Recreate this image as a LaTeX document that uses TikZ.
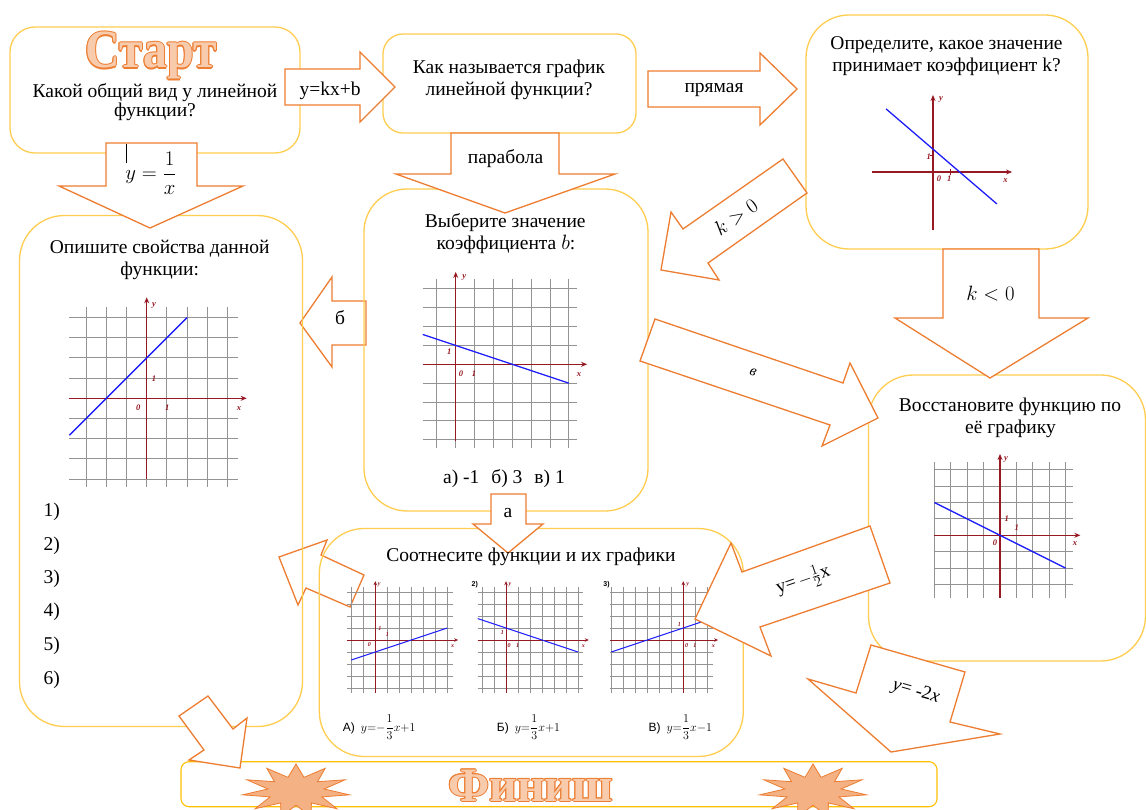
\documentclass[tikz,border=0pt]{standalone}
\usepackage{amsmath}
\usepackage{fontspec}
\usepackage{graphicx}
\setmainfont{Liberation Serif}
\newfontfamily\sansf{Liberation Sans}
\usetikzlibrary{shapes.geometric,arrows.meta}
\definecolor{boxc}{RGB}{255,205,80}
\definecolor{finc}{RGB}{255,192,0}
\definecolor{arrc}{RGB}{237,125,49}
\definecolor{starf}{RGB}{244,177,131}
\definecolor{titlef}{RGB}{248,203,173}
\definecolor{axred}{RGB}{150,25,35}
\definecolor{fblue}{RGB}{30,30,250}
\newcommand\mainsz{\rmfamily\fontsize{19.5}{22.4}\selectfont}
\newcommand\titlesz{\fontsize{48}{50}\selectfont\bfseries}
\newcommand\glf{\fontsize{8.5}{9}\selectfont\bfseries\itshape}
\newcommand\glfs{\fontsize{6}{6}\selectfont\bfseries\itshape}
\newcommand\outlineword[1]{%
 {\color{arrc}%
 \rlap{\hspace*{1pt}#1}\rlap{\hspace*{-1pt}#1}\rlap{\raisebox{1pt}{#1}}\rlap{\raisebox{-1pt}{#1}}%
 \rlap{\hspace*{.7pt}\raisebox{.7pt}{#1}}\rlap{\hspace*{-.7pt}\raisebox{.7pt}{#1}}%
 \rlap{\hspace*{.7pt}\raisebox{-.7pt}{#1}}\rlap{\hspace*{-.7pt}\raisebox{-.7pt}{#1}}}%
 {\color{titlef}#1}}
\newcommand\gridg[8]{%
  \foreach \gx in {#1,...,#2} {\draw[gridl] (\gx,#5) -- (\gx,#6);}%
  \foreach \gy in {#3,...,#4} {\draw[gridl] (#7,\gy) -- (#8,\gy);}}
\tikzset{
  qbox/.style={draw=boxc, line width=1.3pt, inner sep=0pt},
  blockarr/.style={draw=arrc, line width=1.3pt, fill=white, line join=miter},
  txt/.style={anchor=base, inner sep=0pt, font=\mainsz},
  gridl/.style={draw=gray!85, line width=0.9pt},
  axisl/.style={draw=axred, line width=1.1pt},
  bigarr/.style={axisl, -{Stealth[length=6pt,width=5pt]}},
  smallarr/.style={axisl, line width=0.8pt, -{Stealth[length=4pt,width=3.5pt]}},
  fline/.style={draw=fblue, line width=1.3pt},
  glab/.style={font=\glf, text=axred, inner sep=0pt},
  glabs/.style={font=\glfs, text=axred, inner sep=0pt},
  starsh/.style={star, star points=11, star point ratio=1.9, fill=starf, draw=arrc,
    line width=0.8pt, minimum size=54pt, inner sep=0pt, transform shape, xscale=2},
}
\begin{document}
\begin{tikzpicture}[x=1pt,y=-1pt]
\useasboundingbox (0,0) rectangle (1146,810);
\fill[white] (0,0) rectangle (1146,810);

% arrows lying behind the boxes
\draw[blockarr] (366,301) -- (332,301) -- (332,277) -- (300,323) -- (332,367) -- (332,345) -- (366,345) -- cycle;
\draw[blockarr] (279,557) -- (327,540) -- (321,555) -- (364,575) -- (350,607) -- (306,588) -- (298,605) -- cycle;

% boxes
\node[qbox, minimum width=290pt, minimum height=126pt, rounded corners=25pt] (start) at (155,90) {};
\node[qbox, minimum width=253pt, minimum height=99pt, rounded corners=20pt] (q2) at (509.5,83.5) {};
\node[qbox, minimum width=282pt, minimum height=234pt, rounded corners=43pt] (q3) at (947,132) {};
\node[qbox, minimum width=284pt, minimum height=322pt, rounded corners=43pt] (mid) at (506,350) {};
\node[qbox, minimum width=283pt, minimum height=511pt, rounded corners=45pt] (left) at (161,471) {};
\node[qbox, minimum width=277pt, minimum height=286pt, rounded corners=45pt] (right) at (1007,518) {};
\node[qbox, minimum width=424pt, minimum height=228pt, rounded corners=45pt] (bot) at (531.3,642.5) {};
\node[qbox, draw=finc, line width=1.1pt, minimum width=756pt, minimum height=45pt, rounded corners=8pt] (finish) at (559,784.2) {};

% stars
\node[starsh] (lstar) at (296,791) {};
\node[starsh] (rstar) at (813,791) {};

% graph 1 (q3)
\begin{scope}[shift={(933,172)},x=17pt,y=17pt]
 \draw[bigarr] (-3.59,0) -- (4.65,0);
 \draw[bigarr] (0,-3.41) -- (0,4.53);
 \draw[axisl,line width=0.7pt] (1,-0.15) -- (1,0.15);
 \draw[axisl,line width=0.7pt] (-0.15,1) -- (0,1);
 \draw[fline] (-2.76,3.71) -- (3.76,-1.88);
 \node[glab] (g1y) at (0.47,4.27) {y};
 \node[glab] (g1a) at (-0.25,0.9) {1};
 \node[glab] (g1o) at (0.35,-0.41) {0};
 \node[glab] (g1b) at (0.96,-0.41) {1};
 \node[glab] (g1x) at (4.27,-0.51) {x};
\end{scope}

% graph 2 (mid)
\begin{scope}[shift={(455.7,364.3)},x=18.85pt,y=18.85pt]
 \gridg{-1}{6}{-4}{4}{-4.45}{4.5}{-1.75}{6.43}
 \draw[bigarr] (-1.75,0) -- (6.97,0);
 \draw[bigarr] (0,-4.07) -- (0,4.9);
 \draw[fline] (-1.75,1.583) -- (6,-1);
 \node[glab] (g2y) at (0.45,4.6) {y};
 \node[glab] (g2a) at (-0.34,0.67) {1};
 \node[glab] (g2o) at (0.28,-0.48) {0};
 \node[glab] (g2b) at (0.97,-0.48) {1};
 \node[glab] (g2x) at (6.54,-0.57) {x};
\end{scope}

% graph 3 (left)
\begin{scope}[shift={(146.7,398.3)},x=20.2pt,y=20.2pt]
 \gridg{-3}{4}{-4}{4}{-4.37}{4.53}{-3.83}{4.5}
 \draw[bigarr] (-3.83,0) -- (4.95,0);
 \draw[bigarr] (0,-4) -- (0,5);
 \draw[fline] (-3.83,-1.83) -- (2,4);
 \node[glab] (g3y) at (0.36,4.6) {y};
 \node[glab] (g3a) at (0.36,0.99) {1};
 \node[glab] (g3o) at (-0.42,-0.46) {0};
 \node[glab] (g3b) at (1.02,-0.46) {1};
 \node[glab] (g3x) at (4.57,-0.5) {x};
\end{scope}

% graph 4 (right)
\begin{scope}[shift={(1000,535.3)},x=16.4pt,y=16.4pt]
 \gridg{-4}{4}{-3}{4}{-3.8}{4.49}{-4}{4.47}
 \draw[bigarr] (-4,0) -- (4.9,0);
 \draw[bigarr] (0,-3.8) -- (0,4.96);
 \draw[fline] (-4,2) -- (4,-2);
 \node[glab] (g4y) at (0.37,4.63) {y};
 \node[glab] (g4a) at (0.41,0.99) {1};
 \node[glab] (g4b) at (1.02,0.46) {1};
 \node[glab] (g4o) at (-0.3,-0.43) {0};
 \node[glab] (g4x) at (4.57,-0.49) {x};
\end{scope}

% small graphs
\begin{scope}[shift={(375.3,640)},x=12pt,y=12pt,gridl/.style={draw=gray!85, line width=0.65pt}]
 \gridg{-2}{6}{-4}{4}{-4.4}{4.4}{-2.33}{6.44}
 \draw[smallarr] (-2.33,0) -- (6.9,0);
 \draw[smallarr] (0,-4.4) -- (0,4.9);
 \draw[fline,line width=1pt] (-2,-1.667) -- (6,1);
 \node[glabs] (gay) at (0.33,4.58) {y};
 \node[glabs] (gaa) at (0.39,0.97) {1};
 \node[glabs] (gab) at (1.0,0.42) {1};
 \node[glabs] (gao) at (-0.5,-0.36) {0};
 \node[glabs] (gax) at (6.45,-0.47) {x};
\end{scope}
\begin{scope}[shift={(506,640)},x=12pt,y=12pt,gridl/.style={draw=gray!85, line width=0.65pt}]
 \gridg{-2}{6}{-4}{4}{-4.4}{4.4}{-2.36}{6.44}
 \draw[smallarr] (-2.36,0) -- (6.9,0);
 \draw[smallarr] (0,-4.4) -- (0,4.9);
 \draw[fline,line width=1pt] (-2.36,1.787) -- (6,-1);
 \node[glabs] (gby) at (0.33,4.58) {y};
 \node[glabs] (gba) at (-0.3,0.64) {1};
 \node[glabs] (gbo) at (0.25,-0.42) {0};
 \node[glabs] (gbb) at (0.97,-0.42) {1};
 \node[glabs] (gbx) at (6.44,-0.47) {x};
 \node[inner sep=0pt, font=\sansf\bfseries\fontsize{7}{8}\selectfont] (gbn) at (-2.6,4.6) {2)};
\end{scope}
\begin{scope}[shift={(683.3,640)},x=12pt,y=12pt,gridl/.style={draw=gray!85, line width=0.65pt}]
 \gridg{-6}{2}{-4}{4}{-4.4}{4.4}{-6.1}{2.5}
 \draw[smallarr] (-6.1,0) -- (2.9,0);
 \draw[smallarr] (0,-4.4) -- (0,4.9);
 \draw[fline,line width=1pt] (-6,-1) -- (2,1.667);
 \node[glabs] (gcy) at (0.36,4.58) {y};
 \node[glabs] (gca) at (-0.33,1.25) {1};
 \node[glabs] (gco) at (0.28,-0.42) {0};
 \node[glabs] (gcb) at (0.97,-0.42) {1};
 \node[glabs] (gcx) at (2.5,-0.47) {x};
 \node[inner sep=0pt, font=\sansf\bfseries\fontsize{7}{8}\selectfont] (gcn) at (-6.4,4.6) {3)};
\end{scope}

% block arrows on top
\draw[blockarr] (285,69) -- (360,69) -- (360,52) -- (395,87) -- (360,122) -- (360,105) -- (285,105) -- cycle;
\draw[blockarr] (648,71) -- (760,71) -- (760,53) -- (797,89) -- (760,125) -- (760,107) -- (648,107) -- cycle;
\draw[blockarr] (451,133) -- (559,133) -- (559,174) -- (615,174) -- (505,213) -- (396,174) -- (451,174) -- cycle;
\draw[blockarr] (106,143) -- (197,143) -- (197,186) -- (243,186) -- (150,228) -- (59,186) -- (106,186) -- cycle;
\draw[blockarr] (783,159) -- (807,193) -- (708,263) -- (719,280) -- (661,270) -- (671,212) -- (683,229) -- cycle;
\draw[blockarr] (943,249) -- (1039,249) -- (1039,318) -- (1088,318) -- (990,378) -- (895,318) -- (943,318) -- cycle;
\draw[blockarr] (655,319) -- (843,383) -- (850,363) -- (878,418) -- (822,446) -- (830,425) -- (640,361) -- cycle;
\draw[blockarr] (870,526) -- (890,583) -- (760,627) -- (771,656) -- (695,619) -- (731,543) -- (742,572) -- cycle;
\draw[blockarr] (871,645) -- (965,672) -- (950,722) -- (1000,734) -- (891,752) -- (808,679) -- (856,693) -- cycle;
\draw[blockarr] (179,716) -- (208,696) -- (233,729) -- (247,718) -- (240,768) -- (189,760) -- (204,750) -- cycle;
\draw[blockarr] (491,494) -- (526,494) -- (526,524) -- (543,524) -- (508,553) -- (473,524) -- (491,524) -- cycle;

% titles
\node[inner sep=0pt, anchor=base] (ttlstart) at (151,68) {\titlesz\scalebox{1}[1.12]{\outlineword{Старт}}};
\node[inner sep=0pt, anchor=base] (ttlfin) at (530.5,801) {\titlesz\outlineword{Финиш}};

% box texts
\node[txt] (s1) at (155,97.3) {Какой общий вид у линейной};
\node[txt] (s2) at (155,116.7) {функции?};
\node[txt] (q2a) at (509,73.3) {Как называется график};
\node[txt] (q2b) at (509,96) {линейной функции?};
\node[txt] (q3a) at (946.5,49.3) {Определите, какое значение};
\node[txt] (q3b) at (946.5,71.7) {принимает коэффициент k?};
\node[txt] (m1) at (505.3,227.7) {Выберите значение};
\node[txt] (m2) at (506,250) {коэффициента $b$:};
\node[txt] (m3) at (504,483.3) {а) -1\hspace{12pt}б) 3\hspace{12pt}в) 1};
\node[txt] (l1) at (159.7,253.3) {Опишите свойства данной};
\node[txt] (l2) at (159.7,275.7) {функции:};
\foreach \i/\yy in {1/516.7,2/550,3/583.3,4/616.7,5/650,6/684}
  \node[txt, anchor=base west] (li\i) at (43.3,\yy) {\i)};
\node[txt] (r1) at (1010,411) {Восстановите функцию по};
\node[txt] (r2) at (1010.5,433.3) {её графику};
\node[txt] (b1) at (531,561.7) {Соотнесите функции и их графики};
\node[inner sep=0pt, anchor=base west, font=\fontsize{12}{13}\selectfont] (fa) at (342.7,731) {{\sansf А)}\ \ $y{=}{-}\dfrac{1}{3}x{+}1$};
\node[inner sep=0pt, anchor=base west, font=\fontsize{12}{13}\selectfont] (fb) at (496.7,731) {{\sansf Б)}\ \ $y{=}\dfrac{1}{3}x{+}1$};
\node[inner sep=0pt, anchor=base west, font=\fontsize{12}{13}\selectfont] (fc) at (648.3,731) {{\sansf В)}\ \ $y{=}\dfrac{1}{3}x{-}1$};

% arrow texts
\node[txt] (akx) at (330,96) {y=kx+b};
\node[txt] (apr) at (714,92.7) {прямая};
\node[txt] (apa) at (505.5,163.3) {парабола};
\draw[line width=0.6pt] (126,144) -- (126,163);
\node[txt, font=\fontsize{20}{22}\selectfont] (ayx) at (151,180) {$y=\dfrac{1}{x}$};
\node[inner sep=0pt, rotate=35, font=\fontsize{21}{22}\selectfont] (akp) at (736,217) {$k>0$};
\node[txt, font=\fontsize{21}{22}\selectfont] (akn) at (990.5,301) {$k<0$};
\node[inner sep=0pt, rotate=-19, font=\fontsize{15}{16}\selectfont\itshape] (av) at (753,372) {в};
\node[inner sep=0pt, rotate=19, font=\fontsize{19}{20}\selectfont] (ahalf) at (803,580) {y=\,$-\frac{1}{2}$x};
\node[inner sep=0pt, rotate=-16, font=\fontsize{19}{20}\selectfont] (atwo) at (916,692) {\textit{y}= -2\textit{x}};
\node[txt] (ab) at (340,324) {б};
\node[txt] (aa) at (508,517) {а};
\end{tikzpicture}
\end{document}
